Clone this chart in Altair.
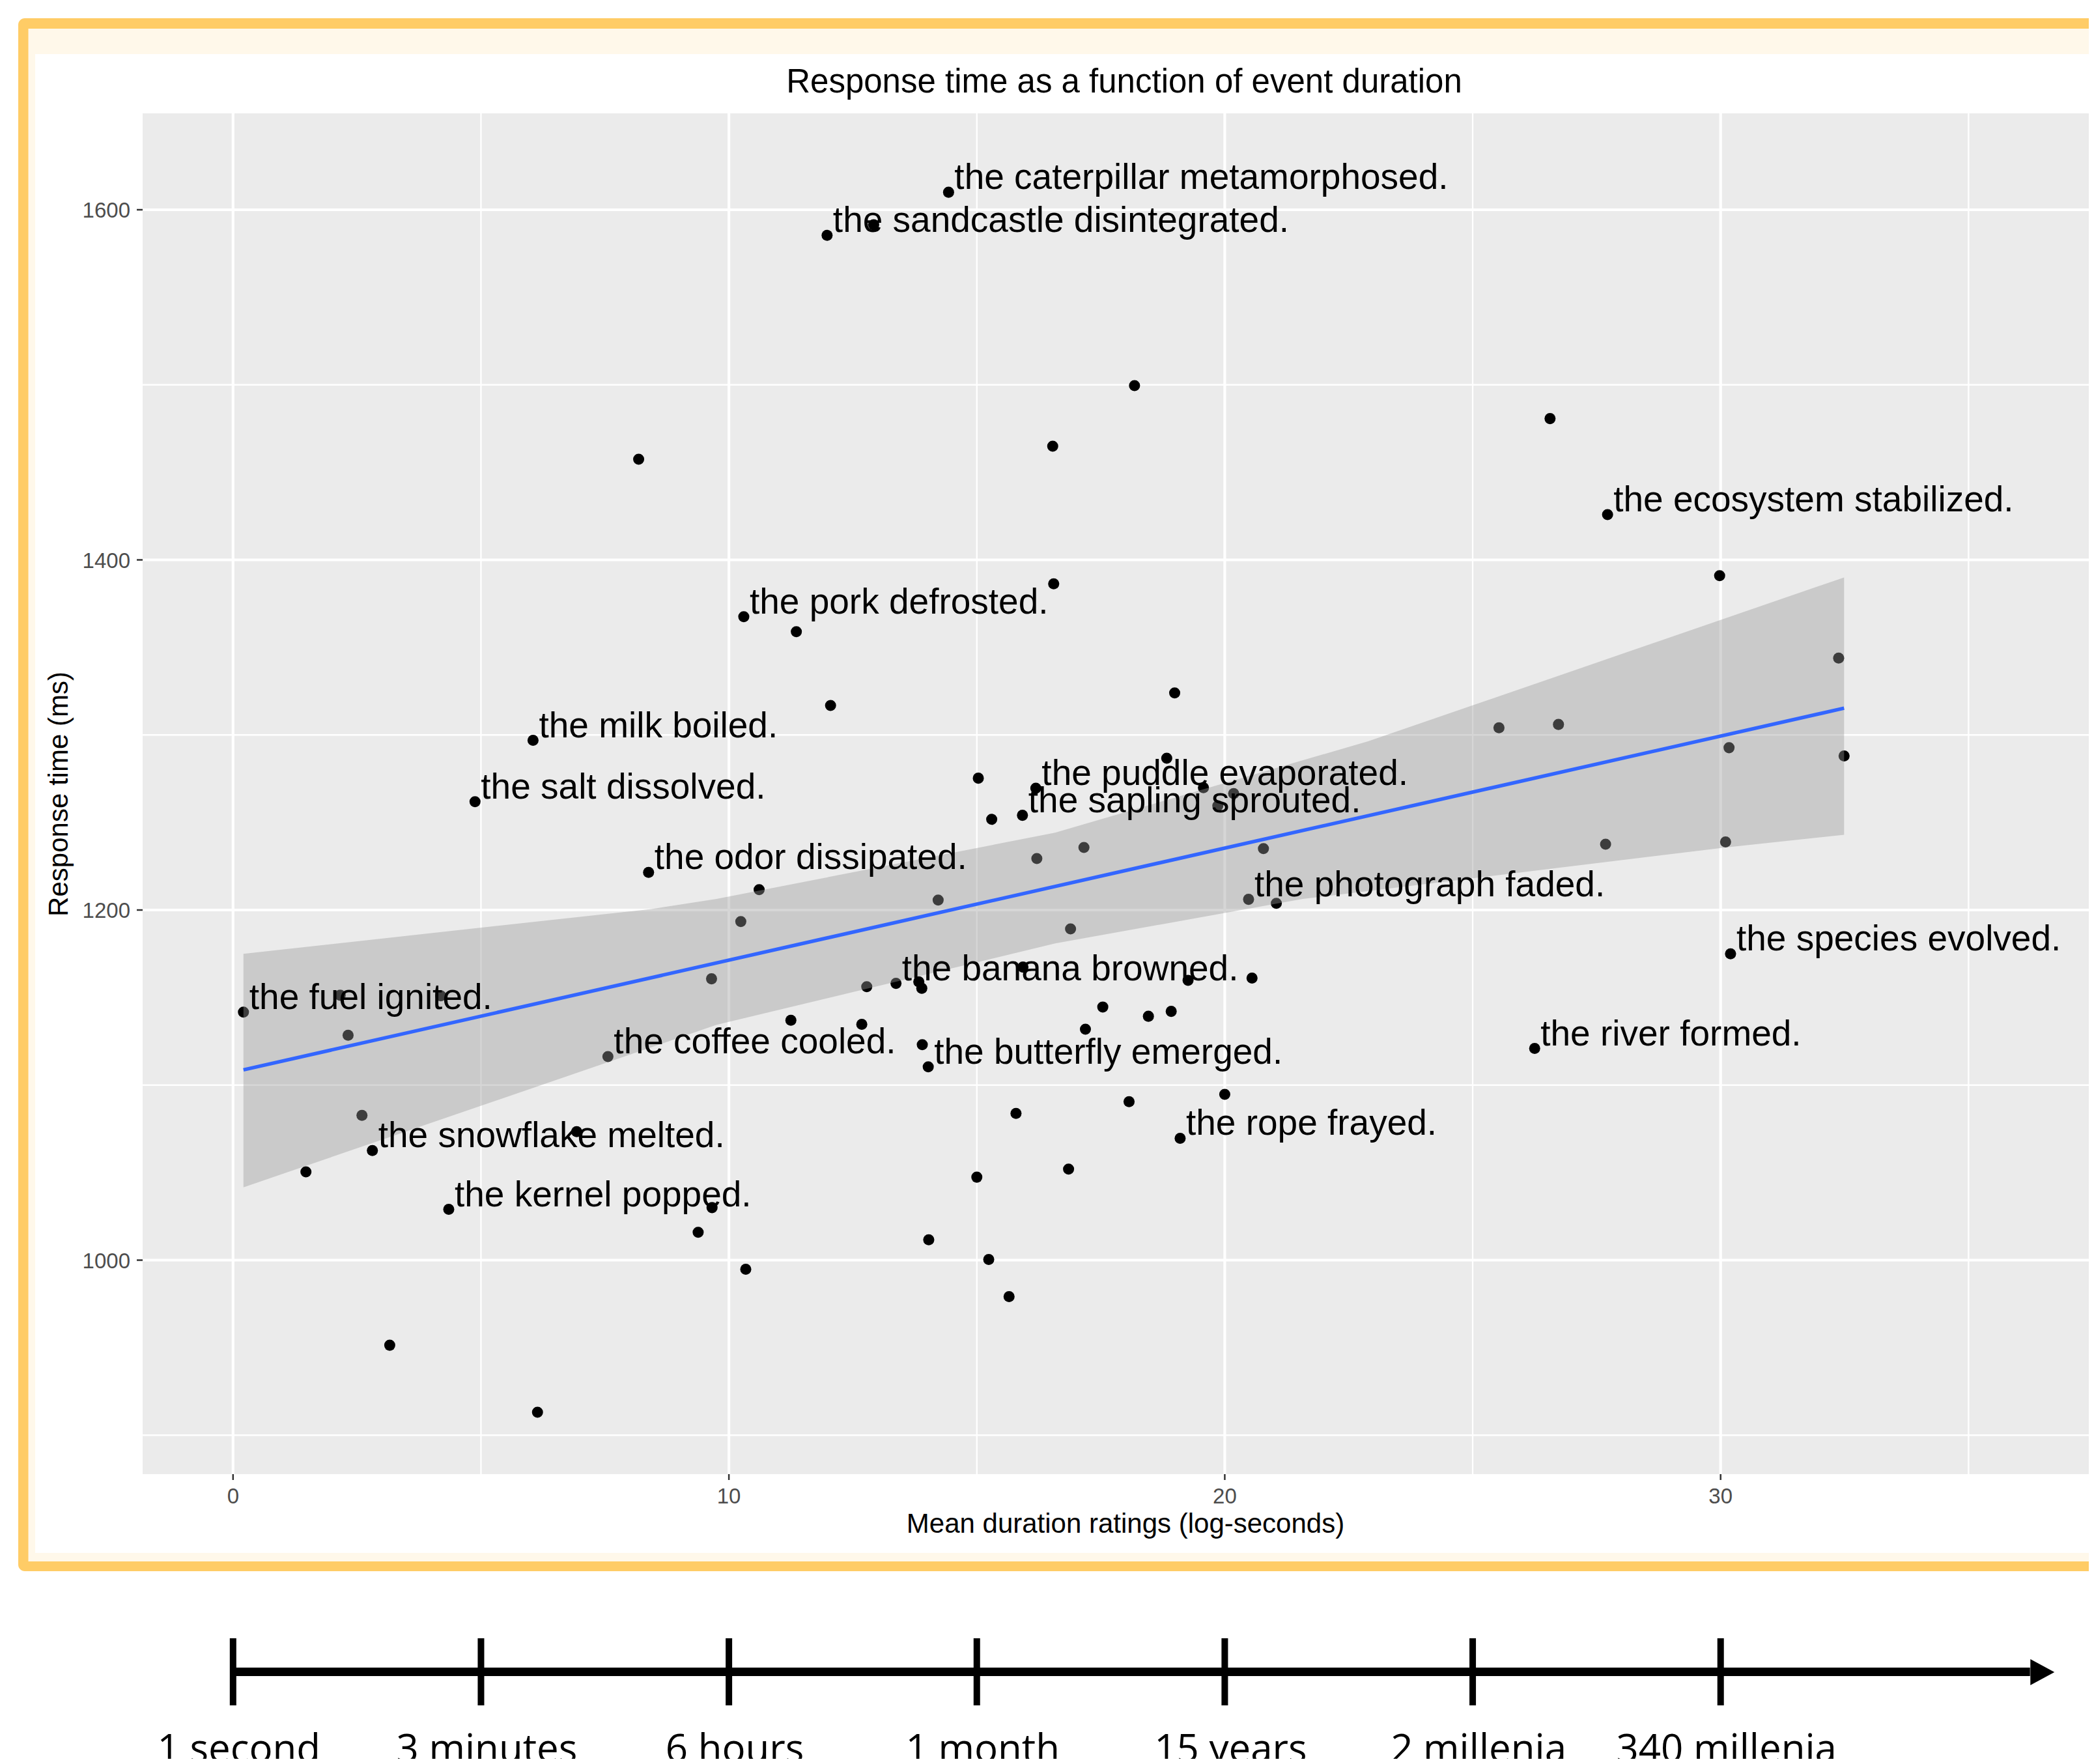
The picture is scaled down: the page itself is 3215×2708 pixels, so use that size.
import altair as alt
import pandas as pd

# ---------------- data ----------------
lab_text = ["the caterpillar metamorphosed.", "the sandcastle disintegrated.",
            "the ecosystem stabilized.", "the pork defrosted.", "the milk boiled.",
            "the puddle evaporated.", "the salt dissolved.", "the sapling sprouted.",
            "the odor dissipated.", "the photograph faded.", "the species evolved.",
            "the banana browned.", "the fuel ignited.", "the river formed.",
            "the coffee cooled.", "the butterfly emerged.", "the rope frayed.",
            "the snowflake melted.", "the kernel popped."]
lab_dur = [14.43, 11.98, 27.72, 10.30, 6.05, 16.19, 4.88, 15.92, 8.38, 20.48,
           30.20, 13.37, 0.21, 26.25, 7.56, 14.02, 19.10, 2.81, 4.35]
lab_rt = [1610.0, 1585.4, 1425.9, 1367.5, 1296.9, 1269.6, 1261.9, 1254.1, 1221.5, 1206.1,
          1175.0, 1158.1, 1141.7, 1120.9, 1116.3, 1110.4, 1069.6, 1062.6, 1029.0]

other_dur = [12.92, 18.18, 26.56, 16.53, 8.18, 29.98, 16.55, 11.36, 32.38, 12.05,
             18.99, 25.53, 26.73, 18.83, 32.49, 30.17, 15.03, 19.57, 20.18, 19.86,
             15.30, 17.16, 16.21, 20.78, 27.68, 30.10, 10.61, 14.22, 21.04, 10.24,
             16.89, 15.93, 20.55, 13.83, 13.89, 12.78, 19.26, 9.65, 2.16, 4.19,
             17.54, 18.92, 18.46, 11.25, 12.68, 17.19, 2.32, 13.90, 20.00, 18.07,
             15.79, 2.60, 6.93, 16.85, 1.47, 15.00, 9.66, 9.38, 14.03, 15.24,
             10.34, 15.65, 3.16, 6.14]
other_rt = [1591.4, 1499.5, 1480.7, 1464.9, 1457.5, 1391.0, 1386.3, 1359.0, 1343.9, 1316.8,
            1324.0, 1304.1, 1306.0, 1286.7, 1288.0, 1292.7, 1275.3, 1269.9, 1266.5, 1259.5,
            1251.8, 1235.7, 1229.4, 1235.1, 1237.6, 1238.9, 1211.6, 1205.7, 1203.8, 1193.4,
            1189.2, 1167.4, 1161.1, 1159.0, 1155.3, 1156.2, 1159.8, 1160.7, 1151.3, 1151.0,
            1144.6, 1142.1, 1139.3, 1137.0, 1134.7, 1131.9, 1128.5, 1123.1, 1094.7, 1090.5,
            1083.8, 1082.7, 1073.4, 1052.0, 1050.4, 1047.4, 1030.0, 1015.9, 1011.6, 1000.4,
            994.8, 979.2, 951.4, 913.1]

fit_dur = [0.21, 32.49]
fit_rt = [1108.7, 1315.3]

# confidence band edges, read at the x positions where they could be measured
band_hi_dur = [0.21, 8.44, 9.75, 16.58, 22.89, 27.88, 32.49]
band_hi = [1175.0, 1200.6, 1206.3, 1244.2, 1296.4, 1345.0, 1390.0]
band_lo_dur = [0.21, 9.75, 16.58, 21.57, 30.10, 32.49]
band_lo = [1041.6, 1134.4, 1180.9, 1206.3, 1235.7, 1243.0]

x_major = [0, 10, 20, 30]
x_minor = [5, 15, 25, 35]
y_major = [1000, 1200, 1400, 1600]
y_minor = [900, 1100, 1300, 1500]
x_tick_labels = ["0", "10", "20", "30"]
y_tick_labels = ["1000", "1200", "1400", "1600"]

timeline_vals = [0, 5, 10, 15, 20, 25, 30]
timeline_labels = ["1 second", "3 minutes", "6 hours", "1 month", "15 years",
                   "2 millenia", "340 millenia"]
timeline_end = [36.24]
arrow_at = [36.49]

title_text = "Response time as a function of event duration"
x_title = "Mean duration ratings (log-seconds)"
y_title = "Response time (ms)"

# ---------------- chart ----------------
W, H = 2988, 2089
xs = alt.Scale(domain=[-1.8232, 37.425], nice=False, zero=False)
ys = alt.Scale(domain=[877.77, 1655.07], nice=False, zero=False)
FONT = "Liberation Sans"

one = pd.DataFrame({"a": [0]})


def box(x, x2, y, y2, color, radius=0):
    return alt.Chart(one).mark_rect(color=color, cornerRadius=radius).encode(
        x=alt.value(x), x2=alt.value(x2), y=alt.value(y), y2=alt.value(y2))


frame_yellow = box(-191, 3100, -146, 2238, "#FFCC66", 10)
frame_cream = box(-175.5, 3100, -130, 2223, "#FFF8EA")
frame_white = box(-165, 3100, -91, 2210, "#FFFFFF")
panel = box(0, 3100, 0, H, "#EBEBEB")


def X(field):
    return alt.X(field, type="quantitative", scale=xs, axis=None)


def Y(field):
    return alt.Y(field, type="quantitative", scale=ys, axis=None)


def vgrid(vals, w):
    return alt.Chart(pd.DataFrame({"v": vals})).mark_rule(color="white", strokeWidth=w).encode(
        x=X("v"), y=alt.value(0), y2=alt.value(H))


def hgrid(vals, w):
    return alt.Chart(pd.DataFrame({"v": vals})).mark_rule(color="white", strokeWidth=w).encode(
        y=Y("v"), x=alt.value(0), x2=alt.value(3100))


pts_df = pd.DataFrame({"dur": lab_dur + other_dur, "rt": lab_rt + other_rt})
points = alt.Chart(pts_df).mark_circle(color="black", opacity=1, size=290).encode(
    x=X("dur"), y=Y("rt"))

band_df = pd.DataFrame({"d": band_hi_dur + band_lo_dur[::-1],
                        "r": band_hi + band_lo[::-1],
                        "o": list(range(len(band_hi) + len(band_lo)))})
band = alt.Chart(band_df).mark_line(
    stroke="#999999", strokeWidth=0, fill="#999999", fillOpacity=0.4,
    interpolate="linear").encode(x=X("d"), y=Y("r"), order="o:Q")

fit = alt.Chart(pd.DataFrame({"d": fit_dur, "r": fit_rt})).mark_line(
    color="#3366FF", strokeWidth=5.5).encode(x=X("d"), y=Y("r"))

labels = alt.Chart(pd.DataFrame({"d": lab_dur, "r": lab_rt, "t": lab_text})).mark_text(
    align="left", baseline="alphabetic", dx=9, dy=-5, fontSize=55, font=FONT,
    color="black").encode(x=X("d"), y=Y("r"), text="t:N")

# axes (ticks, tick labels, titles)
x_ticks = alt.Chart(pd.DataFrame({"v": x_major})).mark_rule(
    color="#333333", strokeWidth=2.5).encode(x=X("v"), y=alt.value(H), y2=alt.value(H + 9))
y_ticks = alt.Chart(pd.DataFrame({"v": y_major})).mark_rule(
    color="#333333", strokeWidth=2.5).encode(y=Y("v"), x=alt.value(-9), x2=alt.value(0))
x_tlabels = alt.Chart(pd.DataFrame({"v": x_major, "t": x_tick_labels})).mark_text(
    align="center", baseline="alphabetic", fontSize=33, font=FONT, color="#4D4D4D").encode(
    x=X("v"), y=alt.value(H + 45), text="t:N")
y_tlabels = alt.Chart(pd.DataFrame({"v": y_major, "t": y_tick_labels})).mark_text(
    align="right", baseline="middle", fontSize=33, font=FONT, color="#4D4D4D", dy=2).encode(
    y=Y("v"), x=alt.value(-19), text="t:N")
x_title_m = alt.Chart(pd.DataFrame({"t": [x_title]})).mark_text(
    align="center", baseline="alphabetic", fontSize=42, font=FONT, color="black").encode(
    x=alt.value(1509), y=alt.value(H + 90), text="t:N")
y_title_m = alt.Chart(pd.DataFrame({"t": [y_title]})).mark_text(
    align="center", baseline="alphabetic", fontSize=42, font=FONT, color="black",
    angle=270).encode(x=alt.value(-115), y=alt.value(1045), text="t:N")
title = alt.Chart(pd.DataFrame({"t": [title_text]})).mark_text(
    align="center", baseline="alphabetic", fontSize=51, font=FONT, color="black").encode(
    x=alt.value(1507), y=alt.value(-32), text="t:N")

# timeline below the plot
tl_bar = alt.Chart(pd.DataFrame({"s": [timeline_vals[0]], "e": timeline_end})).mark_rule(
    color="black", strokeWidth=13).encode(x=X("s"), x2="e:Q", y=alt.value(2392.5))
tl_ticks = alt.Chart(pd.DataFrame({"v": timeline_vals})).mark_rule(
    color="black", strokeWidth=10).encode(x=X("v"), y=alt.value(2341), y2=alt.value(2444))
tl_arrow = alt.Chart(pd.DataFrame({"v": arrow_at})).mark_point(
    shape="M-1,-1.08L1,0L-1,1.08Z", filled=True, size=1369, color="black",
    opacity=1).encode(x=X("v"), y=alt.value(2393))
tl_labels = alt.Chart(pd.DataFrame({"v": timeline_vals, "t": timeline_labels})).mark_text(
    align="center", baseline="alphabetic", fontSize=60, font="Open Sans", color="black",
    dx=9).encode(x=X("v"), y=alt.value(2531), text="t:N")

chart = alt.layer(
    frame_yellow, frame_cream, frame_white, panel,
    vgrid(x_minor, 2.3), hgrid(y_minor, 2.3), vgrid(x_major, 4.2), hgrid(y_major, 4.2),
    points, band, fit, labels,
    x_ticks, y_ticks, x_tlabels, y_tlabels, x_title_m, y_title_m, title,
    tl_bar, tl_ticks, tl_arrow, tl_labels,
).properties(
    width=W, height=H,
    autosize=alt.AutoSizeParams(type="none"),
    padding={"left": 211, "top": 166, "right": 0, "bottom": 437},
    background="white",
).configure_view(strokeWidth=0)

chart.save("out.html", embed_options={"renderer": "svg", "actions": False})
